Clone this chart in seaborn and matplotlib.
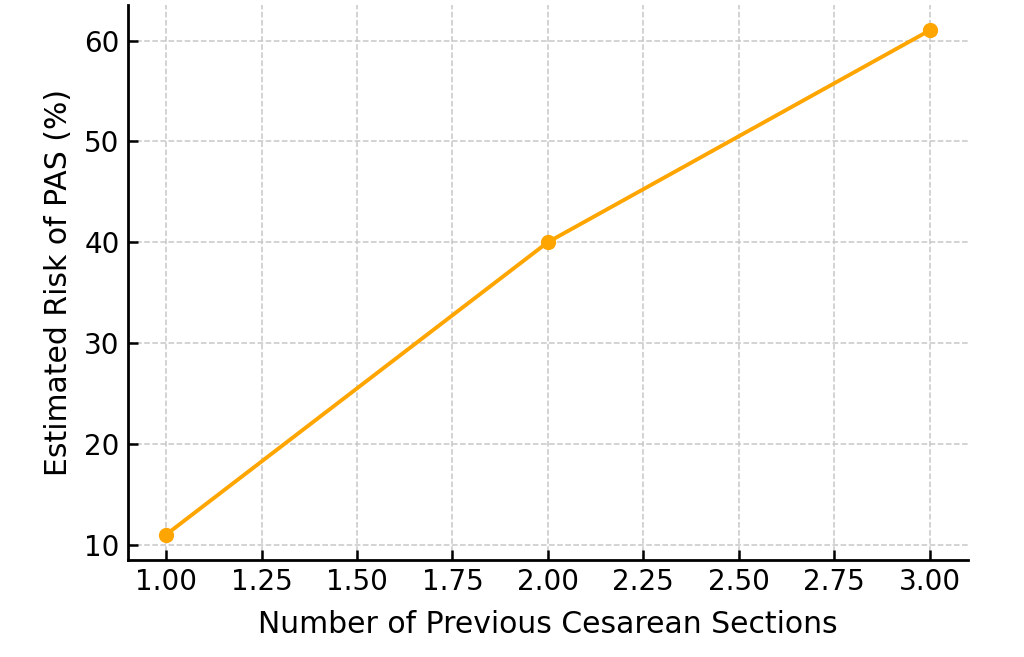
import matplotlib
matplotlib.use("Agg")
import matplotlib.pyplot as plt
import seaborn as sns
import pandas as pd

# data
num_cesareans = [1, 2, 3]
risk_pas = [11, 40, 61]

df = pd.DataFrame({"n": num_cesareans, "risk": risk_pas})

sns.set_style("ticks")
plt.rcParams["font.family"] = ["DejaVu Sans"]
plt.rcParams["text.color"] = "black"
plt.rcParams["axes.labelcolor"] = "black"
plt.rcParams["xtick.color"] = "black"
plt.rcParams["ytick.color"] = "black"
plt.rcParams["axes.edgecolor"] = "black"

fig = plt.figure(figsize=(10.24, 6.57), dpi=100)
ax = fig.add_axes([0.125, 0.148, 0.82, 0.844])

sns.lineplot(data=df, x="n", y="risk", marker="o", color="orange",
             linewidth=2.8, markersize=11, markeredgewidth=0, ax=ax)

ax.grid(True, linestyle="--", color="#c8c8c8", linewidth=1.1)
ax.set_axisbelow(True)
ax.xaxis.set_major_formatter(matplotlib.ticker.FormatStrFormatter("%.2f"))
ax.set_xlabel("Number of Previous Cesarean Sections", fontsize=21.5, labelpad=10)
ax.set_ylabel("Estimated Risk of PAS (%)", fontsize=21.5, labelpad=8)
ax.tick_params(direction="in", labelsize=20, width=1.8, length=7, pad=6)
for side in ["top", "right"]:
    ax.spines[side].set_visible(False)
for side in ["left", "bottom"]:
    ax.spines[side].set_linewidth(2)

fig.savefig("out.png", dpi=100)
